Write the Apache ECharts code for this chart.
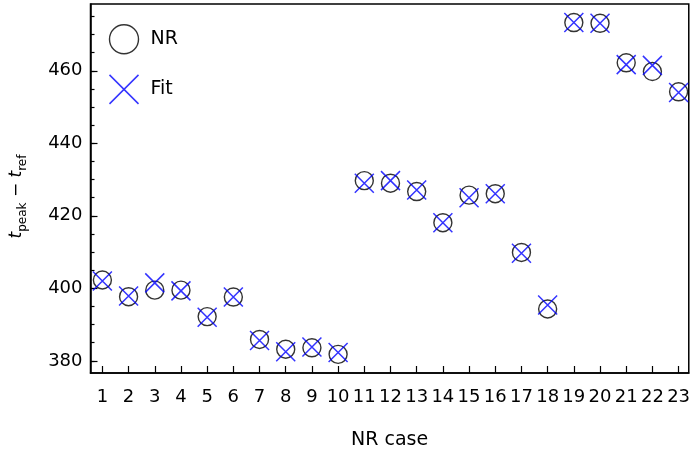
<!DOCTYPE html>
<html>
<head>
<meta charset="utf-8">
<script src="https://cdn.jsdelivr.net/npm/echarts@6/dist/echarts.min.js"></script>
<style>html,body{margin:0;padding:0;background:#fff}#c{width:693px;height:455px}</style>
</head>
<body>
<div id="c"></div>
<script>
const cases = [1,2,3,4,5,6,7,8,9,10,11,12,13,14,15,16,17,18,19,20,21,22,23];
const nrValues = [402.3,397.7,399.5,399.5,392.2,397.6,385.9,383.2,383.6,381.8,429.7,429.0,426.7,418.1,425.7,426.1,409.9,394.3,473.3,473.1,462.2,459.8,454.2];
const fitValues = [402.0,397.9,401.5,399.3,392.0,397.6,385.6,382.5,383.8,382.3,429.0,429.7,427.1,418.1,425.0,426.1,409.7,395.4,473.3,473.1,461.7,461.5,454.0];
const yMajorTicks = [380,400,420,440,460];
const yMinorTicks = [380,385,390,395,400,405,410,415,420,425,430,435,440,445,450,455,460,465,470,475];
const seriesNames = ['NR','Fit'];

const FONT = 'DejaVu Sans';
const chart = echarts.init(document.getElementById('c'), null, {renderer:'canvas'});
const xPath = 'path://M0,0L10,10M10,0L0,10';
const yMin = 376.65, yMax = 478.42;
chart.setOption({
  animation:false,
  grid:{left:88, top:4, width:604, height:374, show:true, borderColor:'#000', borderWidth:1.5, backgroundColor:'transparent'},
  legend:{
    orient:'vertical', left:107, top:24, padding:0, itemWidth:29, itemHeight:29, itemGap:18,
    selectedMode:false,
    textStyle:{fontFamily:FONT, fontSize:19, color:'#000', padding:[0,0,0,7]},
    data:[
      {name:seriesNames[0], icon:'circle', itemStyle:{color:'rgba(0,0,0,0)', borderColor:'#000', borderWidth:1.4}},
      {name:seriesNames[1], icon:xPath, itemStyle:{color:'none', borderColor:'#0000ff', borderWidth:1.5}}
    ]
  },
  xAxis:{
    type:'value', min:0.546, max:23.389,
    name:'NR case', nameLocation:'middle', nameGap:58,
    nameTextStyle:{fontFamily:FONT, fontSize:19, color:'#000'},
    axisLine:{show:true, onZero:false, lineStyle:{color:'#000', width:1.5}},
    axisTick:{show:true, inside:true, length:7, customValues:cases, lineStyle:{color:'#000', width:1.2}},
    axisLabel:{show:true, customValues:cases, margin:15, fontFamily:FONT, fontSize:18, color:'#000'},
    splitLine:{show:false}
  },
  yAxis:[{
    type:'value', min:yMin, max:yMax,
    name:'{i|t}{s|peak}{n| − }{i|t}{s|ref}', nameLocation:'middle', nameRotate:90, nameGap:62,
    nameTextStyle:{fontFamily:FONT, fontSize:17, color:'#000', padding:[0,16,0,0],
      rich:{
        i:{fontFamily:FONT, fontSize:17, fontStyle:'italic', color:'#000', lineHeight:24},
        n:{fontFamily:FONT, fontSize:17, color:'#000', lineHeight:24},
        s:{fontFamily:FONT, fontSize:12, color:'#000', lineHeight:24, verticalAlign:'bottom', padding:[8,0,0,0]}
      }},
    axisLine:{show:true, onZero:false, lineStyle:{color:'#000', width:1.5}},
    axisTick:{show:true, inside:true, length:7, customValues:yMajorTicks, lineStyle:{color:'#000', width:1.2}},
    axisLabel:{show:true, customValues:yMajorTicks, margin:8, fontFamily:FONT, fontSize:18, color:'#000'},
    splitLine:{show:false}
  },{
    type:'value', min:yMin, max:yMax, position:'left',
    axisLine:{show:false},
    axisTick:{show:true, inside:true, length:4, customValues:yMinorTicks, lineStyle:{color:'#000', width:1.2}},
    axisLabel:{show:false},
    splitLine:{show:false}
  }],
  series:[
    {
      name:seriesNames[0], type:'scatter', symbol:'circle', symbolSize:18,
      data:cases.map((c,i)=>[c, nrValues[i]]),
      itemStyle:{color:'rgba(0,0,0,0)', borderColor:'#000', borderWidth:1.4},
      emphasis:{disabled:true}, silent:true, z:2
    },
    {
      name:seriesNames[1], type:'scatter', symbol:xPath, symbolSize:19,
      data:cases.map((c,i)=>[c, fitValues[i]]),
      itemStyle:{color:'none', borderColor:'#0000ff', borderWidth:1.5},
      emphasis:{disabled:true}, silent:true, z:3
    }
  ]
});
</script>
</body>
</html>
